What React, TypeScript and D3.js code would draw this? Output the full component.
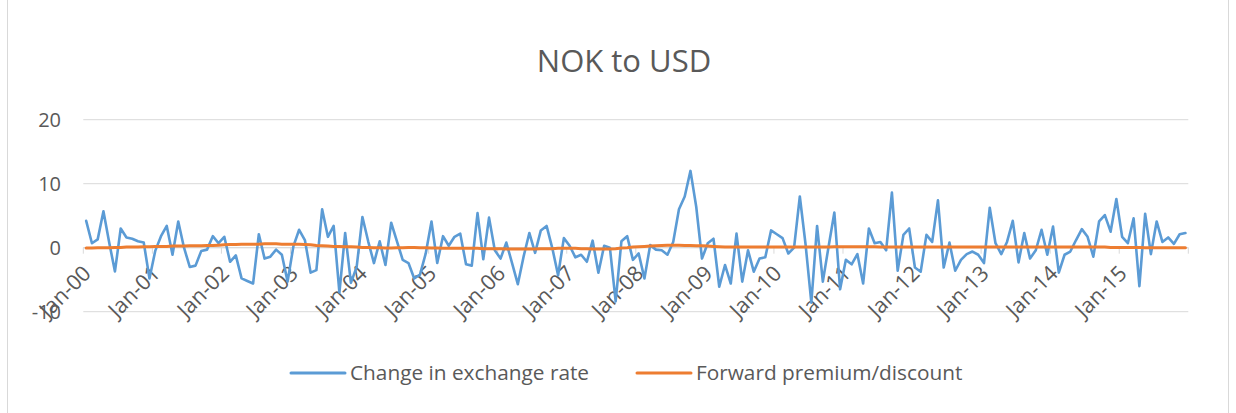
import React, { useRef, useEffect } from 'react';
import * as d3 from 'd3';

// monthly observations Jan-00 .. Dec-15
const yearLabels = ['Jan-00', 'Jan-01', 'Jan-02', 'Jan-03', 'Jan-04', 'Jan-05', 'Jan-06', 'Jan-07',
  'Jan-08', 'Jan-09', 'Jan-10', 'Jan-11', 'Jan-12', 'Jan-13', 'Jan-14', 'Jan-15'];

const exchangeChange = [
  4.2, 0.7, 1.3, 5.7, 0.8, -3.7, 3.0, 1.6, 1.4, 1.0, 0.8, -4.8,
  -0.5, 1.8, 3.4, -1.1, 4.1, 0.0, -3.0, -2.8, -0.5, -0.3, 1.8, 0.7,
  1.7, -2.2, -1.2, -4.8, -5.2, -5.6, 2.1, -1.7, -1.4, -0.3, -1.1, -5.3,
  0.2, 2.8, 1.2, -3.9, -3.5, 6.0, 1.7, 3.4, -7.0, 2.3, -5.5, -3.0,
  4.8, 1.0, -2.4, 1.0, -2.7, 3.9, 1.0, -1.9, -2.4, -4.8, -4.2, -0.9,
  4.1, -2.4, 1.8, 0.3, 1.7, 2.2, -2.6, -2.8, 5.4, -1.8, 4.7, -0.4,
  -1.7, 0.8, -2.4, -5.7, -1.4, 2.3, -0.8, 2.7, 3.4, -0.1, -4.3, 1.5,
  0.3, -1.5, -1.1, -2.2, 1.1, -3.9, 0.3, 0.0, -8.4, 1.0, 1.8, -1.9,
  -0.9, -4.8, 0.4, -0.3, -0.4, -1.1, 0.9, 6.0, 8.0, 12.0, 6.4, -1.7,
  0.7, 1.4, -6.1, -2.7, -5.6, 2.2, -5.3, -0.4, -3.75, -1.7, -1.5, 2.7,
  2.1, 1.5, -0.9, 0.0, 8.0, 0.5, -8.6, 3.4, -5.3, 0.2, 5.5, -6.5,
  -1.9, -2.6, -1.0, -5.6, 3.0, 0.7, 0.9, -0.4, 8.6, -3.6, 2.0, 3.0,
  -3.1, -3.75, 2.0, 0.9, 7.4, -3.1, 0.8, -3.6, -1.9, -1.0, -0.6, -1.1,
  -2.4, 6.25, 0.7, -1.0, 0.9, 4.2, -2.3, 2.3, -1.7, -0.4, 2.8, -1.1,
  3.3, -3.9, -1.1, -0.6, 1.2, 2.9, 1.7, -1.4, 4.1, 5.1, 2.5, 7.6,
  1.7, 0.7, 4.6, -6.0, 5.3, -1.0, 4.1, 0.9, 1.6, 0.6, 2.1, 2.3,
];

const forwardPremium = [
  -0.05, -0.05, 0, 0, 0, 0.05, 0.05, 0.1, 0.1, 0.1, 0.15, 0.15,
  0.2, 0.2, 0.2, 0.25, 0.25, 0.25, 0.3, 0.3, 0.3, 0.35, 0.35, 0.4,
  0.45, 0.5, 0.5, 0.55, 0.55, 0.55, 0.55, 0.6, 0.6, 0.6, 0.55, 0.55,
  0.55, 0.55, 0.5, 0.45, 0.35, 0.3, 0.25, 0.2, 0.2, 0.15, 0.15, 0.1,
  0.05, 0.05, 0, 0, -0.05, -0.05, 0, 0, 0.05, 0.05, 0, 0,
  -0.05, -0.05, -0.1, -0.1, -0.1, -0.1, -0.1, -0.1, -0.1, -0.15, -0.15, -0.15,
  -0.15, -0.2, -0.2, -0.2, -0.2, -0.2, -0.2, -0.15, -0.15, -0.15, -0.1, -0.1,
  -0.1, -0.1, -0.15, -0.15, -0.2, -0.2, -0.2, -0.2, -0.15, -0.05, 0, 0.1,
  0.15, 0.2, 0.25, 0.3, 0.35, 0.4, 0.4, 0.4, 0.35, 0.35, 0.3, 0.3,
  0.25, 0.2, 0.15, 0.1, 0.1, 0.1, 0.1, 0.1, 0.1, 0.1, 0.1, 0.1,
  0.1, 0.1, 0.1, 0.1, 0.1, 0.1, 0.1, 0.1, 0.1, 0.1, 0.15, 0.15,
  0.15, 0.15, 0.15, 0.15, 0.15, 0.15, 0.1, 0.1, 0.1, 0.1, 0.1, 0.1,
  0.1, 0.1, 0.1, 0.1, 0.1, 0.1, 0.1, 0.1, 0.1, 0.1, 0.1, 0.1,
  0.1, 0.1, 0.1, 0.1, 0.1, 0.1, 0.1, 0.1, 0.1, 0.1, 0.1, 0.1,
  0.1, 0.1, 0.1, 0.1, 0.1, 0.1, 0.1, 0.1, 0.1, 0.1, 0.05, 0.05,
  0.05, 0.05, 0.05, 0.05, 0, 0, 0, 0, 0, 0, 0, 0,
];

const yTicks = [-10, 0, 10, 20];

const W = 1236;
const H = 413;
const FONT = 'Open Sans, sans-serif';
const TEXT = '#595959';

const App = () => {
  const svgRef = useRef<SVGSVGElement>(null);

  useEffect(() => {
    const svg = d3.select(svgRef.current);
    svg.selectAll('*').remove();

    const left = 83.3;
    const right = 1188.3;
    const x = d3.scaleBand<number>().domain(d3.range(exchangeChange.length)).range([left, right]).padding(0);
    const y = d3.scaleLinear().domain([-10, 20]).range([311.7, 119.7]);
    const cx = (i: number) => (x(i) as number) + x.bandwidth() / 2;

    svg.append('rect')
      .attr('x', 7.5).attr('y', -1).attr('width', 1221).attr('height', H + 2)
      .attr('fill', 'white').attr('stroke', '#d9d9d9');

    svg.append('text')
      .attr('x', 624).attr('y', 72)
      .attr('text-anchor', 'middle')
      .style('font-family', FONT).style('font-size', '31px').attr('fill', TEXT)
      .text('NOK to USD');

    // gridlines + y labels
    svg.selectAll('line.grid').data(yTicks).enter().append('line')
      .attr('x1', left).attr('x2', right)
      .attr('y1', (d) => y(d)).attr('y2', (d) => y(d))
      .attr('stroke', '#d9d9d9').attr('stroke-width', 1);

    svg.selectAll('text.ylab').data(yTicks).enter().append('text')
      .attr('x', 61).attr('y', (d) => y(d) + 7)
      .attr('text-anchor', 'end')
      .style('font-family', FONT).style('font-size', '20px').attr('fill', TEXT)
      .text((d) => d);

    // category axis at zero
    const y0 = y(0);
    svg.append('line').attr('x1', left).attr('x2', right).attr('y1', y0).attr('y2', y0)
      .attr('stroke', '#d9d9d9');
    const tickIdx = d3.range(0, exchangeChange.length + 1, 12);
    svg.selectAll('line.tick').data(tickIdx).enter().append('line')
      .attr('x1', (i) => (i < exchangeChange.length ? (x(i) as number) : right))
      .attr('x2', (i) => (i < exchangeChange.length ? (x(i) as number) : right))
      .attr('y1', y0).attr('y2', y0 + 6)
      .attr('stroke', '#d9d9d9');

    svg.selectAll('text.xlab').data(yearLabels).enter().append('text')
      .attr('transform', (d, k) => `translate(${(x(k * 12) as number) + 9},${y0 + 27}) rotate(-45)`)
      .attr('text-anchor', 'end')
      .style('font-family', FONT).style('font-size', '21.5px').attr('fill', TEXT)
      .text((d) => d);

    const line = d3.line<number>().x((d, i) => cx(i)).y((d) => y(d));

    svg.append('path').datum(exchangeChange)
      .attr('d', line).attr('fill', 'none')
      .attr('stroke', '#5B9BD5').attr('stroke-width', 2.6)
      .attr('stroke-linejoin', 'round').attr('stroke-linecap', 'round');

    svg.append('path').datum(forwardPremium)
      .attr('d', line).attr('fill', 'none')
      .attr('stroke', '#ED7D31').attr('stroke-width', 3)
      .attr('stroke-linejoin', 'round').attr('stroke-linecap', 'round');

    // legend
    const legend = [
      { label: 'Change in exchange rate', color: '#5B9BD5', x: 291 },
      { label: 'Forward premium/discount', color: '#ED7D31', x: 637 },
    ];
    const lg = svg.selectAll('g.legend').data(legend).enter().append('g')
      .attr('transform', (d) => `translate(${d.x},373)`);
    lg.append('line').attr('x1', 0).attr('x2', 54).attr('y1', 0).attr('y2', 0)
      .attr('stroke', (d) => d.color).attr('stroke-width', 3).attr('stroke-linecap', 'round');
    lg.append('text').attr('x', 59).attr('y', 7)
      .style('font-family', FONT).style('font-size', '20.8px').attr('fill', TEXT)
      .text((d) => d.label);
  }, []);

  return (
    <svg ref={svgRef} width={W} height={H} style={{ position: 'absolute', left: 0, top: 0 }}></svg>
  );
};

export default App;
